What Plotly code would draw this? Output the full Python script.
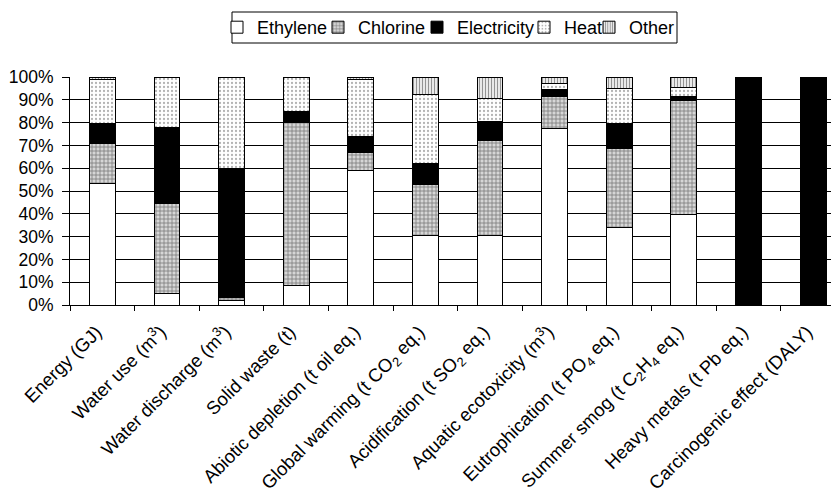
import plotly.graph_objects as go

categories = [
    "Energy (GJ)",
    "Water use (m<sup>3</sup>)",
    "Water discharge (m<sup>3</sup>)",
    "Solid waste (t)",
    "Abiotic depletion (t oil eq.)",
    "Global warming (t CO<sub>2</sub> eq.)",
    "Acidification (t SO<sub>2</sub> eq.)",
    "Aquatic ecotoxicity (m<sup>3</sup>)",
    "Eutrophication (t PO<sub>4</sub> eq.)",
    "Summer smog (t C<sub>2</sub>H<sub>4</sub> eq.)",
    "Heavy metals (t Pb eq.)",
    "Carcinogenic effect (DALY)",
]

ethylene = [53.5, 5, 2, 8.5, 59, 30.7, 30.7, 77.5, 34, 39.5, 0, 0]
chlorine = [17.5, 39.5, 1.5, 71.5, 8, 22.3, 41.3, 14, 34.5, 50, 0, 0]
electricity = [8.5, 33.5, 56.5, 5, 7, 9, 8.5, 3, 11, 2, 100, 100]
heat = [19.5, 22, 40, 15, 25, 30.5, 10, 2.5, 15.5, 4, 0, 0]
other = [1, 0, 0, 0, 1, 7.5, 9.5, 3, 5, 4.5, 0, 0]

series_names = ["Ethylene", "Chlorine", "Electricity", "Heat", "Other"]
y_ticks = [0, 10, 20, 30, 40, 50, 60, 70, 80, 90, 100]

FONT = "Liberation Sans, Arial, sans-serif"
W, H = 831, 486          # page body has an 8px margin
ML, MT, MB = 62, 69, 189
line = dict(color="black", width=1)

markers = [
    dict(color="white", line=line),
    dict(color="white", line=line,
         pattern=dict(shape="+", fgcolor="#1a1a1a", bgcolor="#d6d6d6", size=4, solidity=0.35)),
    dict(color="black", line=line),
    dict(color="white", line=line,
         pattern=dict(shape=".", fgcolor="#666", bgcolor="white", size=4, solidity=0.25)),
    dict(color="white", line=line,
         pattern=dict(shape="|", fgcolor="#333", bgcolor="#f2f2f2", size=3, solidity=0.4)),
]
values = [ethylene, chlorine, electricity, heat, other]

# legend text start positions (page px) for each entry
legend_text_x = [257, 358, 457, 564, 629]

fig = go.Figure()
legend_layouts = {}
for i, (name, vals, mk) in enumerate(zip(series_names, values, markers)):
    lg = "legend" if i == 0 else f"legend{i+1}"
    fig.add_bar(name=name, x=categories, y=vals, marker=mk, legend=lg)
    legend_layouts[lg] = dict(
        x=(legend_text_x[i] - 8 - 40) / W, xref="container", xanchor="left",
        y=1 - 19.5 / H, yref="container", yanchor="middle",
        orientation="h", bgcolor="rgba(0,0,0,0)", borderwidth=0,
        font=dict(size=18, family=FONT, color="black"),
        itemwidth=30,
    )

plot_h = H - MT - MB
fig.add_shape(type="rect", xref="paper", yref="paper",
              x0=(224 - ML) / (W - ML), x1=(669 - ML) / (W - ML),
              y0=(H - MB - (43 - 8)) / plot_h,
              y1=(H - MB - (12 - 8)) / plot_h,
              line=dict(color="black", width=1), fillcolor="rgba(0,0,0,0)", layer="above")

fig.update_layout(
    barmode="stack",
    bargap=0.6,
    width=W, height=H,
    margin=dict(l=ML, r=0, t=MT, b=MB, autoexpand=False),
    paper_bgcolor="white", plot_bgcolor="white",
    font=dict(family=FONT, size=17, color="black"),
    showlegend=True,
    xaxis=dict(type="category", range=[-0.5, 11.4], tickangle=-45,
               showline=True, linecolor="black", linewidth=1,
               ticks="outside", ticklen=5, tickcolor="black", tickson="boundaries",
               showgrid=False, tickfont=dict(size=18.5), automargin=False,
               ticklabelstandoff=8, ticklabelshift=-6),
    yaxis=dict(range=[0, 100], tickvals=y_ticks,
               ticktext=[f"{v}%" for v in y_ticks],
               showline=True, linecolor="black", linewidth=1,
               ticks="outside", ticklen=7, tickcolor="black",
               showgrid=True, gridcolor="black", gridwidth=1,
               zeroline=False, tickfont=dict(size=17.5), automargin=False,
               ticklabelstandoff=5),
    **legend_layouts,
)

fig.write_html("out.html")
